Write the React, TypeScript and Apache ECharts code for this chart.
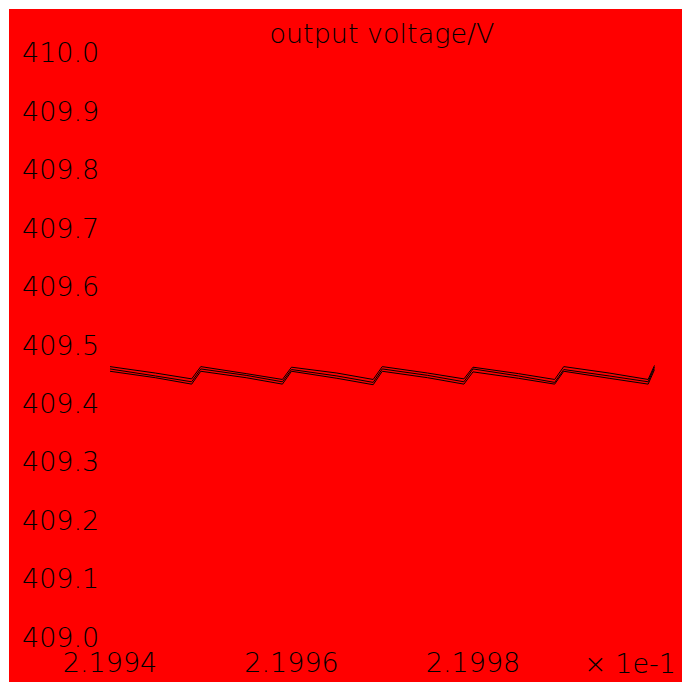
import React, { useEffect, useRef } from "react";
import * as echarts from "echarts";

// Sample times in seconds (axis labels are shown in units of 1e-1 s)
const times = [
  0.21994, 0.219945, 0.219949, 0.21995, 0.219955, 0.219959, 0.21996, 0.219965,
  0.219969, 0.21997, 0.219975, 0.219979, 0.21998, 0.219985, 0.219989, 0.21999,
  0.219995, 0.2199993, 0.22,
];

// Three overlapping voltage traces (V)
const traceA = [
  409.463, 409.452, 409.442, 409.463, 409.451, 409.441, 409.462, 409.452, 409.441,
  409.463, 409.452, 409.442, 409.462, 409.451, 409.441, 409.463, 409.452, 409.441,
  409.465,
];
const traceB = [
  409.459, 409.447, 409.437, 409.459, 409.448, 409.437, 409.458, 409.447, 409.436,
  409.459, 409.448, 409.437, 409.459, 409.447, 409.436, 409.458, 409.447, 409.437,
  409.462,
];
const traceC = [
  409.455, 409.444, 409.433, 409.455, 409.444, 409.433, 409.455, 409.443, 409.432,
  409.455, 409.444, 409.433, 409.454, 409.443, 409.433, 409.455, 409.443, 409.433,
  409.458,
];

const xTicks = [0.21994, 0.21996, 0.21998];
const yTicks = [409.0, 409.1, 409.2, 409.3, 409.4, 409.5, 409.6, 409.7, 409.8, 409.9, 410.0];

const titleText = "output voltage/V";
const xScaleText = "× 1e-1";

const FONT = "DejaVu Sans";

export default function App() {
  const ref = useRef<HTMLDivElement>(null);

  useEffect(() => {
    if (!ref.current) return;
    const chart = echarts.init(ref.current, undefined, { renderer: "svg" });
    const traces = [traceA, traceB, traceC];
    chart.setOption({
      animation: false,
      backgroundColor: "#ff0000",
      grid: { left: 0, right: 0, top: 0, bottom: 0, containLabel: false },
      xAxis: {
        type: "value",
        min: 0.21992887,
        max: 0.22000303,
        axisLine: { show: false },
        axisTick: { show: false },
        splitLine: { show: false },
        axisLabel: {
          inside: true,
          customValues: xTicks,
          margin: 6,
          color: "#000",
          fontFamily: FONT,
          fontWeight: 200,
          fontSize: 27,
          formatter: (v: number) => (v * 10).toFixed(4),
        },
      },
      yAxis: {
        type: "value",
        min: 408.92295,
        max: 410.07534,
        axisLine: { show: false },
        axisTick: { show: false },
        splitLine: { show: false },
        axisLabel: {
          inside: true,
          customValues: yTicks,
          margin: 13,
          color: "#000",
          fontFamily: FONT,
          fontWeight: 200,
          fontSize: 27,
          formatter: (v: number) => v.toFixed(1),
        },
      },
      graphic: [
        {
          type: "text",
          x: 373,
          y: 24,
          style: {
            text: titleText,
            fill: "#000",
            font: `200 27px "${FONT}"`,
            textAlign: "center",
            textVerticalAlign: "middle",
          },
        },
        {
          type: "text",
          x: 621,
          y: 654,
          style: {
            text: xScaleText,
            fill: "#000",
            font: `200 27px "${FONT}"`,
            textAlign: "center",
            textVerticalAlign: "middle",
          },
        },
      ],
      series: traces.map((vals, i) => ({
        type: "line",
        name: `trace${i + 1}`,
        data: times.map((t, k) => [t, vals[k]]),
        showSymbol: false,
        lineStyle: { color: "#000", width: 1 },
      })),
    });
    return () => chart.dispose();
  }, []);

  return (
    <div
      ref={ref}
      style={{ position: "fixed", left: 9, top: 9, width: 673, height: 673 }}
    />
  );
}
